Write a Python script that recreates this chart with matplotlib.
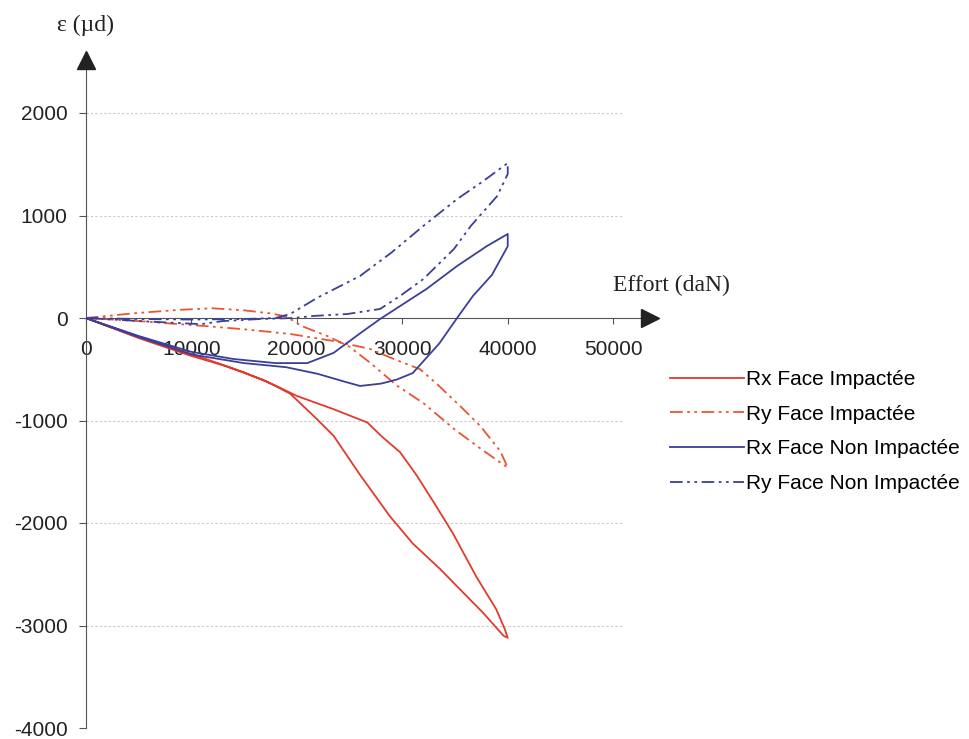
import matplotlib.pyplot as plt

plt.rcParams['font.family'] = ['Liberation Sans', 'DejaVu Sans']
plt.rcParams['axes.unicode_minus'] = False

# Rx face impactee (red solid loop)
rx_imp_x = [0, 5000, 10000, 15000, 18000, 20000, 23500, 26700, 28000, 29800, 31400,
            33000, 34800, 37000, 38900, 39700, 40000, 39600, 37700, 35500, 33600,
            31000, 28800, 26000, 23500, 21900, 19400, 17000, 13000, 10000, 5000, 0]
rx_imp_y = [0, -185, -350, -530, -660, -760, -890, -1020, -1150, -1310, -1540,
            -1800, -2100, -2520, -2840, -3030, -3120, -3100, -2880, -2650, -2450,
            -2200, -1930, -1530, -1150, -985, -740, -610, -460, -370, -195, 0]

# Ry face impactee (red dash-dot loop)
ry_imp_x = [0, 5000, 9000, 12000, 15000, 17500, 19000, 20500, 23000, 25000, 27000,
            29500, 32000, 35000, 37500, 40000, 39300, 37400, 35500, 33300, 31700,
            29200, 26900, 23500, 19400, 15000, 11500, 5000, 0]
ry_imp_y = [0, 50, 80, 95, 75, 45, 15, -80, -180, -280, -440,
            -660, -830, -1090, -1280, -1460, -1300, -1054, -860, -645, -500,
            -400, -300, -225, -156, -110, -80, -30, 0]

# Rx face non impactee (blue solid loop)
rx_non_x = [0, 5000, 10000, 14000, 18000, 21000, 23500, 26000, 27900, 30000, 32300,
            35200, 38000, 40000, 40000, 38500, 36700, 35200, 33500, 31000, 29500,
            28000, 26000, 24500, 22000, 19000, 15000, 10000, 5000, 0]
rx_non_y = [0, -175, -330, -400, -440, -440, -340, -150, -10, 130, 283,
            507, 700, 820, 700, 420, 215, 0, -250, -537, -600,
            -640, -663, -620, -545, -480, -440, -355, -185, 0]

# Ry face non impactee (blue dash-dot loop)
ry_non_x = [0, 5000, 10000, 15000, 18000, 19400, 22000, 26000, 29000, 32000, 35200,
            37700, 40000, 40000, 39000, 36500, 34900, 32000, 29800, 27900, 24800,
            21600, 19700, 16500, 13000, 10900, 6000, 0]
ry_non_y = [0, -10, -15, -10, 0, 40, 200, 410, 640, 898, 1160,
            1337, 1512, 1405, 1190, 898, 673, 380, 215, 88, 39,
            20, 0, -10, -30, -60, -35, 0]

labels = ['Rx Face Impactée', 'Ry Face Impactée', 'Rx Face Non Impactée', 'Ry Face Non Impactée']
x_ticks = [0, 10000, 20000, 30000, 40000, 50000]
y_ticks = [2000, 1000, 0, -1000, -2000, -3000, -4000]
grid_y = [2000, 1000, -1000, -2000, -3000]

red = '#e23b2c'
orange_red = '#ea5530'
blue = '#3b3f98'
dashdotdot = (0, (7, 2.5, 1.5, 2.5, 1.5, 2.5))

fig = plt.figure(figsize=(9.7, 7.39), dpi=100)
ax = fig.add_axes([85.7 / 970, 11 / 739, 580.3 / 970, 676.5 / 739])
ax.set_xlim(0, 55000)
ax.set_ylim(-4000, 2600)

ax.hlines(grid_y, 0, 50800, colors='#c9c9c9', linestyles=(0, (2, 2)), lw=0.8, zorder=1)

ax.plot(rx_imp_x, rx_imp_y, color=red, lw=1.3, label=labels[0], zorder=3)
ax.plot(ry_imp_x, ry_imp_y, color=orange_red, lw=1.3, ls=dashdotdot, label=labels[1], zorder=3)
ax.plot(rx_non_x, rx_non_y, color=blue, lw=1.3, label=labels[2], zorder=3)
ax.plot(ry_non_x, ry_non_y, color=blue, lw=1.3, ls=dashdotdot, label=labels[3], zorder=3)

# axes with arrow heads
for s in ['top', 'right']:
    ax.spines[s].set_visible(False)
ax.spines['left'].set_bounds(-4000, 2450)
ax.spines['left'].set_color('#555555')
ax.spines['bottom'].set_position(('data', 0))
ax.spines['bottom'].set_bounds(0, 52600)
ax.spines['bottom'].set_color('#555555')
ax.spines['bottom'].set_zorder(2)
ax.plot([0], [2520], marker='^', ms=13, color='#222222', clip_on=False, zorder=5)
ax.plot([53500], [0], marker='>', ms=13, color='#222222', clip_on=False, zorder=5)

ax.set_xticks(x_ticks)
ax.set_yticks(y_ticks)
ax.tick_params(axis='both', labelsize=15, colors='#555555', labelcolor='#222222')
ax.tick_params(axis='x', direction='out', length=4, pad=12)
ax.tick_params(axis='y', direction='out', length=5, pad=8)

fig.text(85.5 / 970, 1 - 25 / 739, 'ε (µd)', family='Liberation Serif', fontsize=17,
         ha='center', va='center', color='#222222')
fig.text(613 / 970, 1 - 285 / 739, 'Effort (daN)', family='Liberation Serif', fontsize=17,
         ha='left', va='center', color='#222222')

fig.legend(loc='upper left', bbox_to_anchor=(670 / 970, 1 - 370 / 739), frameon=False,
           fontsize=15, handlelength=3.55, handletextpad=0.1, labelspacing=0.75,
           borderpad=0, borderaxespad=0)

fig.savefig('out.png', dpi=100)
